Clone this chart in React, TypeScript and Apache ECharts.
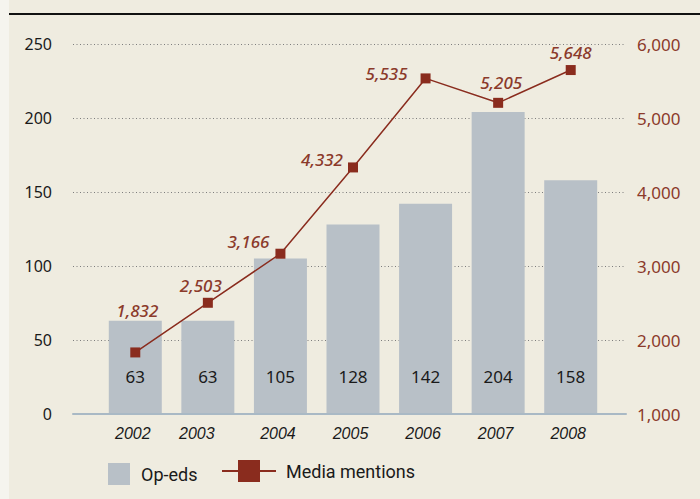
import React, { useEffect, useRef } from 'react';
import * as echarts from 'echarts';

const years = ['2002', '2003', '2004', '2005', '2006', '2007', '2008'];
const opEds = [63, 63, 105, 128, 142, 204, 158];
const mediaMentions = [1832, 2503, 3166, 4332, 5535, 5205, 5648];
const leftAxis = { min: 0, max: 250, interval: 50 };
const rightAxis = { min: 1000, max: 6000, interval: 1000 };

// label placement (style only)
const mentionLabelOffsets = [
  [2, -42],
  [-7, -17],
  [-32, -12],
  [-31, -8],
  [-39, -5],
  [3, -20],
  [0, -18],
];

const BROWN = '#8b3a2b';
const MARK = '#8a2c1e';
const BAR = '#b8c0c7';
const LEG_FONT = "Roboto, 'Liberation Sans', sans-serif";
const YEAR_FONT = "'Liberation Sans', Arial, sans-serif";

const fmt = (v: number) => v.toLocaleString('en-US');

export default function App() {
  const ref = useRef<HTMLDivElement>(null);
  useEffect(() => {
    if (!ref.current) return;
    const chart = echarts.init(ref.current, undefined, { renderer: 'svg' });
    const gridPos = { top: 44, bottom: 85 };
    const yearStyle = { fontFamily: YEAR_FONT, fontStyle: 'italic', fontSize: 16, color: '#1a1a1a' };
    chart.setOption({
      animation: false,
      backgroundColor: '#efece0',
      graphic: [
        { type: 'rect', left: 0, top: 0, shape: { width: 9, height: 499 }, style: { fill: '#f5f4ee' }, silent: true },
        { type: 'line', shape: { x1: 9, y1: 14, x2: 700, y2: 14 }, style: { stroke: '#111', lineWidth: 2 }, silent: true },
      ],
      grid: [
        { left: 73, right: 74, ...gridPos },
        { left: 99, right: 93, ...gridPos },
      ],
      legend: [
        {
          data: ['Op-eds'],
          left: 108,
          top: 463,
          padding: 0,
          icon: 'rect',
          itemWidth: 22,
          itemHeight: 22,
          textStyle: { fontFamily: LEG_FONT, fontSize: 18, color: '#1a1a1a', padding: [0, 0, 0, 6] },
        },
        {
          data: ['Media mentions'],
          left: 221,
          top: 460,
          padding: 0,
          itemWidth: 54,
          itemHeight: 27.5,
          textStyle: { fontFamily: LEG_FONT, fontSize: 18, color: '#1a1a1a', padding: [0, 0, 0, 5] },
        },
      ],
      xAxis: [
        {
          gridIndex: 0,
          type: 'category',
          data: years,
          z: 3,
          axisLine: { show: true, lineStyle: { color: '#a9b9c5', width: 2 } },
          axisTick: { show: false },
          axisLabel: { show: false },
        },
        {
          gridIndex: 1,
          type: 'category',
          data: years,
          axisLine: { show: false },
          axisTick: { show: false },
          axisLabel: {
            interval: 0,
            margin: 11,
            ...yearStyle,
            formatter: (v: string, i: number) => (i === 1 ? `{shift|${v}}` : `{n|${v}}`),
            rich: {
              n: { ...yearStyle, padding: [0, 5, 0, 0] },
              shift: { ...yearStyle, padding: [0, 22, 0, 0] },
            },
          },
        },
      ],
      yAxis: [
        {
          gridIndex: 0,
          type: 'value',
          position: 'left',
          ...leftAxis,
          axisLine: { show: false },
          axisTick: { show: false },
          axisLabel: { margin: 21, fontFamily: "'Noto Sans', sans-serif", fontSize: 16, color: '#1a1a1a' },
          splitLine: { show: true, lineStyle: { type: [1, 2.5], color: '#7d7d7d', width: 1 } },
        },
        {
          gridIndex: 0,
          type: 'value',
          position: 'right',
          ...rightAxis,
          axisLine: { show: false },
          axisTick: { show: false },
          axisLabel: { margin: 11, fontFamily: "'Noto Sans', sans-serif", fontSize: 17, color: BROWN, formatter: fmt },
          splitLine: { show: false },
        },
        { gridIndex: 1, type: 'value', ...leftAxis, show: false, splitLine: { show: false } },
        { gridIndex: 1, type: 'value', ...rightAxis, show: false, splitLine: { show: false } },
      ],
      series: [
        {
          name: 'Op-eds',
          type: 'bar',
          xAxisIndex: 1,
          yAxisIndex: 2,
          data: opEds,
          barWidth: 53,
          itemStyle: { color: BAR },
          label: {
            show: true,
            position: 'insideBottom',
            distance: 29,
            fontFamily: "'Noto Sans', sans-serif",
            fontSize: 17,
            color: '#1a1a1a',
          },
        },
        {
          name: 'Media mentions',
          type: 'line',
          xAxisIndex: 1,
          yAxisIndex: 3,
          symbol: 'rect',
          symbolSize: 10,
          itemStyle: { color: MARK },
          lineStyle: { color: MARK, width: 1.5 },
          data: mediaMentions.map((v, i) => ({
            value: v,
            label: { offset: mentionLabelOffsets[i] },
          })),
          label: {
            show: true,
            position: 'inside',
            formatter: (p: any) => fmt(p.value),
            fontFamily: "'Noto Sans', sans-serif",
            fontStyle: 'italic',
            fontWeight: 500,
            fontSize: 17,
            color: BROWN,
          },
        },
      ],
    });
    return () => chart.dispose();
  }, []);
  return <div ref={ref} style={{ position: 'fixed', left: 0, top: 0, width: 700, height: 499 }} />;
}
